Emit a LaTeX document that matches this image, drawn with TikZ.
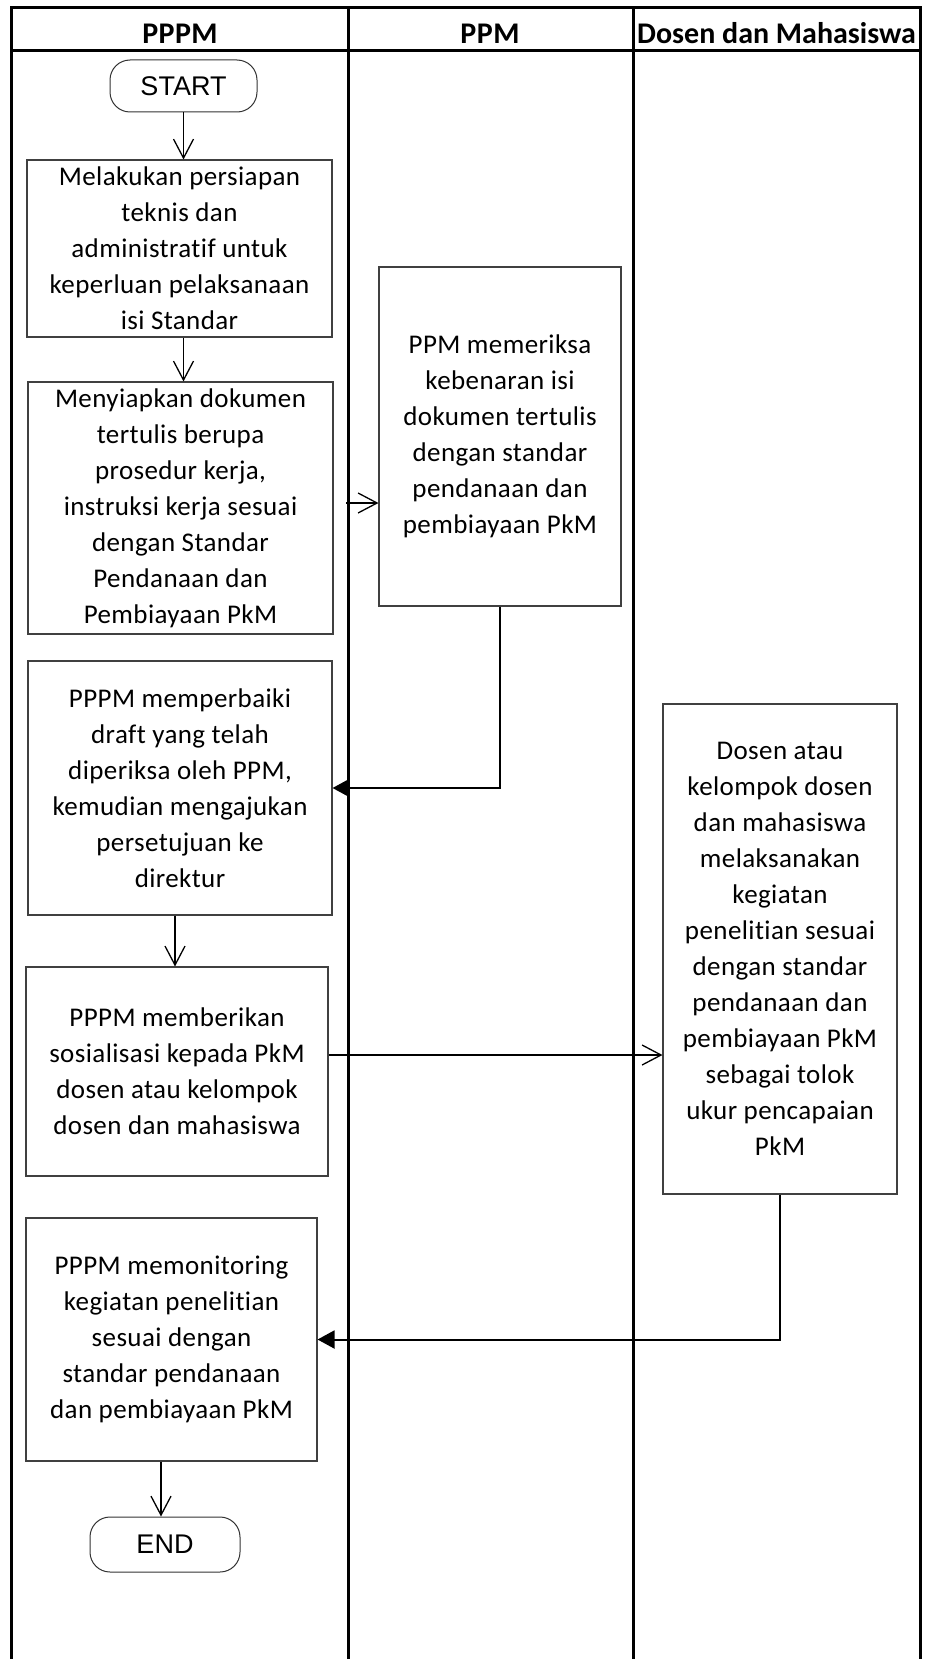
\documentclass[tikz,border=0pt]{standalone}
\usepackage{fontspec}
\setmainfont{Carlito}[Ligatures=NoCommon, LetterSpace=1.5]
\newfontfamily\arialf{Liberation Sans}
\usetikzlibrary{arrows.meta}
\begin{document}
\begin{tikzpicture}[x=1pt,y=-1pt,
  lane/.style={line width=3pt,black},
  procbox/.style={draw=black!75, line width=1.1pt, rectangle, align=center, inner sep=0pt, font=\fontsize{27}{36}\selectfont},
  termbox/.style={draw=black!80, line width=1pt, rectangle, rounded corners=20pt, inner sep=0pt, font=\arialf\fontsize{27}{32}\selectfont},
  headtxt/.style={font=\bfseries\fontsize{30}{36}\selectfont, anchor=base, inner sep=0pt},
  openarrow/.style={line width=1.3pt, -{Straight Barb[length=19pt,width=20pt]}},
  filledarrow/.style={line width=2pt, -{Triangle[length=17pt,width=18pt]}},
]
\useasboundingbox (0,0) rectangle (924,1659);
% swimlane frame
\draw[lane] (11,1659) -- (11,8) -- (920,8) -- (920,1659);
\draw[lane] (11,51) -- (920,51);
\draw[lane] (348,8) -- (348,1659);
\draw[lane] (633,8) -- (633,1659);
% headers
\node[headtxt] (h1) at (180,44) {PPPM};
\node[headtxt] (h2) at (490,44) {PPM};
\node[headtxt] (h3) at (776.5,44) {\addfontfeature{LetterSpace=0}Dosen dan Mahasiswa};
% nodes
\node[termbox, minimum width=147pt, minimum height=52pt] (startnode) at (183.5,86) {START};
\node[procbox, minimum width=305pt, minimum height=177pt] (b1) at (179.5,248.5)
  {Melakukan persiapan\\teknis dan\\administratif untuk\\keperluan pelaksanaan\\isi Standar};
\node[procbox, minimum width=305pt, minimum height=252pt] (b2) at (180.5,508)
  {Menyiapkan dokumen\\tertulis berupa\\prosedur kerja,\\instruksi kerja sesuai\\dengan Standar\\Pendanaan dan\\Pembiayaan PkM};
\node[procbox, minimum width=242pt, minimum height=339pt] (b3) at (500,436.5)
  {PPM memeriksa\\kebenaran isi\\dokumen tertulis\\dengan standar\\pendanaan dan\\pembiayaan PkM};
\node[procbox, minimum width=304pt, minimum height=254pt] (b4) at (180,788)
  {PPPM memperbaiki\\draft yang telah\\diperiksa oleh PPM,\\kemudian mengajukan\\persetujuan ke\\direktur};
\node[procbox, minimum width=302pt, minimum height=209pt] (b5) at (177,1071.5)
  {PPPM memberikan\\sosialisasi kepada PkM\\dosen atau kelompok\\dosen dan mahasiswa};
\node[procbox, minimum width=234pt, minimum height=490pt] (b6) at (780,949)
  {Dosen atau\\kelompok dosen\\dan mahasiswa\\melaksanakan\\kegiatan\\penelitian sesuai\\dengan standar\\pendanaan dan\\pembiayaan PkM\\sebagai tolok\\ukur pencapaian\\PkM};
\node[procbox, minimum width=291pt, minimum height=243pt] (b7) at (171.5,1339.5)
  {PPPM memonitoring\\kegiatan penelitian\\sesuai dengan\\standar pendanaan\\dan pembiayaan PkM};
\node[termbox, minimum width=150pt, minimum height=55pt] (stopnode) at (165,1544.5) {END};
% connectors
\draw[openarrow] (startnode) -- (startnode |- b1.north);
\draw[openarrow] (b1.south -| startnode) -- (b2.north -| startnode);
\coordinate (c23) at (346,503);
\draw[openarrow] (c23) -- (c23 -| b3.west);
\draw[filledarrow] (b3.south) |- (b4.east);
\draw[openarrow] ([xshift=-5pt]b4.south) -- ([xshift=-5pt]b4.south |- b5.north);
\coordinate (c56) at (b5.east |- 0,1055);
\draw[openarrow] (c56) -- (c56 -| b6.west);
\draw[filledarrow] (b6.south) |- (b7.east);
\draw[openarrow] ([xshift=-4pt]stopnode.north |- b7.south) -- ([xshift=-4pt]stopnode.north);
\end{tikzpicture}
\end{document}
